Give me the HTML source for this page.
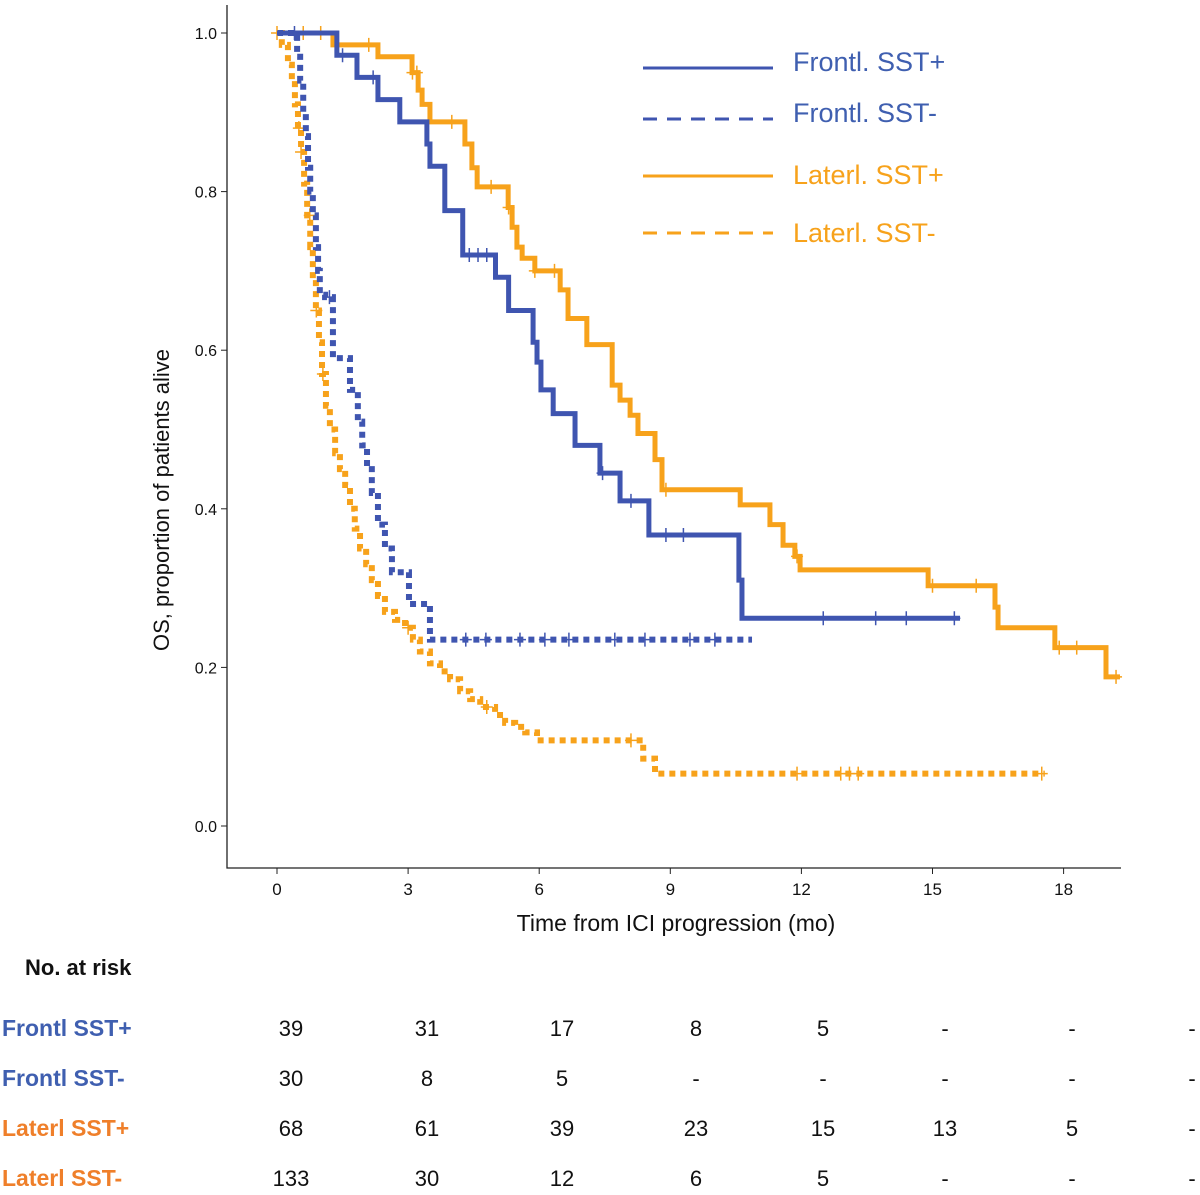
<!DOCTYPE html>
<html><head><meta charset="utf-8"><style>
body{margin:0;background:#fff;width:1200px;height:1190px;overflow:hidden}
svg{font-family:"Liberation Sans",sans-serif}
</style></head><body>
<svg id="c" width="1200" height="1190" xmlns="http://www.w3.org/2000/svg"></svg>
<script>
const fsT=[1.37,1.83,2.31,2.81,3.43,3.5,3.84,4.25,5.0,5.3,5.86,5.95,6.04,6.32,6.82,7.39,7.85,8.51,10.57,10.64];
const fsS=[0.972,0.944,0.916,0.888,0.86,0.832,0.776,0.72,0.692,0.65,0.61,0.585,0.55,0.52,0.48,0.445,0.41,0.367,0.31,0.262];
const fsEnd=15.63;
const fsCens=[0.4,1.5,2.2,4.4,4.6,4.8,7.45,8.1,8.9,9.3,12.5,13.7,14.4,15.5];
const lsT=[1.28,2.31,3.09,3.23,3.32,3.5,4.3,4.46,4.58,5.29,5.38,5.49,5.61,5.9,6.48,6.66,7.09,7.67,7.85,8.08,8.26,8.65,8.81,10.6,11.28,11.58,11.85,11.97,14.9,16.43,16.5,17.8,18.97];
const lsS=[0.985,0.97,0.95,0.928,0.91,0.888,0.86,0.83,0.806,0.78,0.755,0.73,0.716,0.70,0.676,0.64,0.607,0.556,0.537,0.518,0.495,0.462,0.424,0.405,0.38,0.354,0.34,0.323,0.303,0.276,0.25,0.225,0.188];
const lsEnd=19.29;
const lsCens=[0,0.6,1.0,2.1,3.1,3.2,4.0,4.9,5.3,5.9,6.35,8.9,11.9,15.0,16.0,17.9,18.3,19.2];
const fnT=[0.46,0.53,0.6,0.66,0.71,0.76,0.82,0.89,0.94,0.98,1.1,1.28,1.67,1.85,1.95,2.06,2.17,2.31,2.47,2.63,3.02,3.5];
const fnS=[0.97,0.94,0.9,0.87,0.83,0.8,0.77,0.73,0.7,0.67,0.667,0.59,0.55,0.51,0.48,0.45,0.42,0.38,0.35,0.32,0.28,0.235];
const fnEnd=10.87;
const fnCens=[1.2,4.32,4.78,5.56,6.13,6.68,7.73,8.42,9.45,10.02];
const lnT=[0.11,0.25,0.34,0.41,0.48,0.55,0.62,0.69,0.76,0.82,0.89,0.96,1.03,1.12,1.21,1.33,1.44,1.56,1.67,1.78,1.9,2.04,2.17,2.31,2.47,2.7,2.93,3.11,3.27,3.5,3.73,3.96,4.19,4.42,4.65,4.99,5.22,5.45,5.68,5.95,8.38,8.65];
const lnS=[0.985,0.96,0.94,0.91,0.88,0.85,0.81,0.77,0.73,0.69,0.65,0.61,0.57,0.53,0.5,0.47,0.45,0.43,0.4,0.375,0.35,0.33,0.31,0.29,0.27,0.26,0.25,0.235,0.22,0.205,0.195,0.185,0.17,0.16,0.15,0.14,0.13,0.125,0.118,0.108,0.085,0.066];
const lnEnd=17.57;
const lnCens=[0.5,0.55,0.75,0.9,1.05,3.0,4.8,8.1,11.9,12.9,13.1,13.3,17.5];
const xTicks=[0,3,6,9,12,15,18];
const yTicks=[0,0.2,0.4,0.6,0.8,1.0];
const riskNames=["Frontl SST+","Frontl SST-","Laterl SST+","Laterl SST-"];
const risk=[["39","31","17","8","5","-","-","-"],["30","8","5","-","-","-","-","-"],["68","61","39","23","15","13","5","-"],["133","30","12","6","5","-","-","-"]];

const X=t=>277+t*43.7, Y=s=>826-s*793;
const svg=document.getElementById('c');
const NS='http://www.w3.org/2000/svg';
function el(tag,attrs,txt){const e=document.createElementNS(NS,tag);for(const k in attrs)e.setAttribute(k,attrs[k]);if(txt!==undefined)e.textContent=txt;svg.appendChild(e);return e;}
const BLUE='#3f55b0',ORANGE='#f7a21b',TBLUE='#3f5fb0',TOR='#ef7f2a';

let a=el('path',{d:'M227 5 V868 H1121',fill:'none',stroke:'#222','stroke-width':1.3});


yTicks.forEach(v=>{
  let t=el('line',{x1:221,x2:227,y1:Y(v),y2:Y(v),stroke:'#222'});
  
  
  let l=el('text',{x:217,y:Y(v)+6,'text-anchor':'end','font-size':16,fill:'#111'},v.toFixed(1));
  
  
});
xTicks.forEach(v=>{
  let t=el('line',{x1:X(v),x2:X(v),y1:868,y2:874,stroke:'#222'});
  
  
  let l=el('text',{x:X(v),y:895,'text-anchor':'middle','font-size':17,fill:'#111'},String(v));
  
  
});
let xl=el('text',{x:676,y:931,'text-anchor':'middle','font-size':23,fill:'#111'},'Time from ICI progression (mo)');


let yl=el('text',{x:0,y:0,transform:'translate(169,500) rotate(-90)','text-anchor':'middle','font-size':22,fill:'#111'},'OS, proportion of patients alive');



function curve(T,S,end,cens,color,dash,name){
  let d='M'+X(0)+' '+Y(1);
  T.forEach((t,i)=>{d+=' H'+X(t)+' V'+Y(S[i]);});
  d+=' H'+X(end);
  const attrs={d:d,fill:'none',stroke:color,'stroke-width':dash?6:5};
  if(dash)attrs['stroke-dasharray']='6 5';
  let p=el('path',attrs);
  
  
  cens.forEach(c=>{
    let s=1;T.forEach((t,i)=>{if(t<=c)s=S[i];});
    let m=el('path',{d:'M'+(X(c)-6)+' '+Y(s)+' h12 M'+X(c)+' '+(Y(s)-7)+' v14',stroke:color,'stroke-width':1.5,fill:'none'});
    
    
  });
}
curve(lnT,lnS,lnEnd,lnCens,ORANGE,true,'laterl-sst-neg');
curve(fnT,fnS,fnEnd,fnCens,BLUE,true,'frontl-sst-neg');
curve(lsT,lsS,lsEnd,lsCens,ORANGE,false,'laterl-sst-pos');
curve(fsT,fsS,fsEnd,fsCens,BLUE,false,'frontl-sst-pos');

const leg=[["Frontl. SST+",BLUE,false,68,62],["Frontl. SST-",BLUE,true,119,113],["Laterl. SST+",ORANGE,false,176,175],["Laterl. SST-",ORANGE,true,233,233]];
leg.forEach(g=>{
  const at={x1:643,x2:773,y1:g[3],y2:g[3],stroke:g[1],'stroke-width':3};
  if(g[2])at['stroke-dasharray']='14 10';
  let l=el('line',at);
  
  
  let t=el('text',{x:793,y:g[4]+9,'font-size':27,fill:g[1]==BLUE?TBLUE:ORANGE},g[0]);
  
  
});

let rt=el('text',{x:25,y:975,'font-size':22,'font-weight':'bold',fill:'#111'},'No. at risk');


const colX=[291,427,562,696,823,945,1072,1192];
risk.forEach((row,r)=>{
  const y=1036+r*50;const col=r<2?TBLUE:TOR;
  let n=el('text',{x:2,y:y,'font-size':23,'font-weight':'bold',fill:col},riskNames[r]);
  
  
  row.forEach((v,i)=>{
    let c=el('text',{x:colX[i],y:y,'text-anchor':'middle','font-size':22,fill:'#111'},v);
    
    
  });
});
</script>
</body></html>
